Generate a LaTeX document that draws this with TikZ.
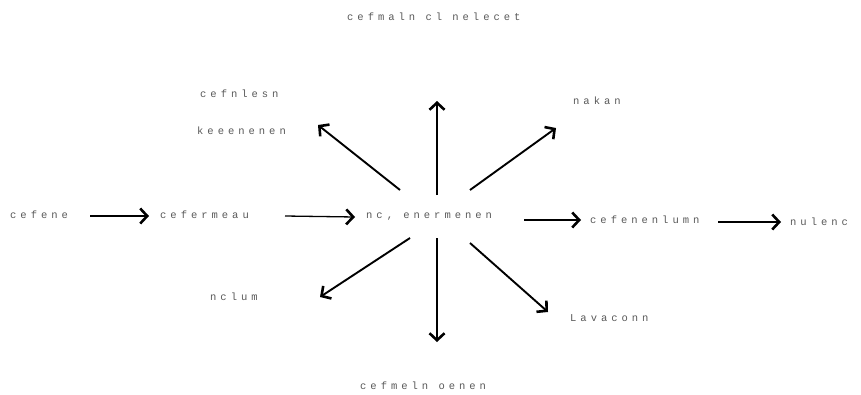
\documentclass[tikz,border=0pt]{standalone}
\usepackage{fontspec}
\usetikzlibrary{arrows.meta}
\newfontfamily\lblfont[LetterSpace=38]{Liberation Mono}
\begin{document}
\begin{tikzpicture}[x=1pt,y=-1pt,
  lbl/.style={inner sep=0pt,anchor=west,text=black!65,font=\lblfont\fontsize{10.5}{11}\selectfont},
  arr/.style={line width=1.3pt,-{Straight Barb[length=7pt,width=15pt,line width=2.6pt]}},
  ray/.style={arr,line width=1.9pt}]
\useasboundingbox (0,0) rectangle (861,394);

% labels
\node[lbl] (top)   at (347,17)  {cefmaln cl nelecet};
\node[lbl] (ul1)   at (200,94)  {cefnlesn};
\node[lbl] (ul2)   at (197,131) {keeenenen};
\node[lbl] (ur)    at (573,101) {nakan};
\node[lbl] (in)    at (10,215)  {cefene};
\node[lbl] (pre)   at (160,215) {cefermeau};
\node[lbl] (c)     at (366,217) {nc, enermenen};
\node[lbl] (post)  at (590,220) {cefenenlumn};
\node[lbl] (out)   at (790,222) {nulenc};
\node[lbl] (ll)    at (210,297) {nclum};
\node[lbl] (lr)    at (570,318) {Lavaconn};
\node[lbl] (bot)   at (360,386) {cefmeln oenen};

% ends of the horizontal arrows
\coordinate (h1a) at (90,216);  \coordinate (h1b) at (149,216);
\coordinate (h2a) at (285,216); \coordinate (h2b) at (355,217);
\coordinate (h3a) at (524,220); \coordinate (h3b) at (581,220);
\coordinate (h4a) at (718,222); \coordinate (h4b) at (781,222);

% ends of the radiating arrows
\coordinate (eN)  at (437,101);
\coordinate (eNW) at (318,125);
\coordinate (eNE) at (556,128);
\coordinate (eS)  at (437,342);
\coordinate (eSW) at (320,297);
\coordinate (eSE) at (548,312);
\coordinate (sN)  at (437,195);
\coordinate (sNW) at (400,190);
\coordinate (sNE) at (470,190);
\coordinate (sS)  at (437,238);
\coordinate (sSW) at (410,238);
\coordinate (sSE) at (470,243);

% chain along the middle
\draw[arr] (h1a) -- (h1b);
\draw[arr] (h2a) -- (h2b);
\draw[arr] (h3a) -- (h3b);
\draw[arr] (h4a) -- (h4b);

% radiating arrows
\draw[ray] (sN) -- (eN);
\draw[ray] (sNW) -- (eNW);
\draw[ray] (sNE) -- (eNE);
\draw[ray] (sS) -- (eS);
\draw[ray] (sSW) -- (eSW);
\draw[ray] (sSE) -- (eSE);
\end{tikzpicture}
\end{document}
